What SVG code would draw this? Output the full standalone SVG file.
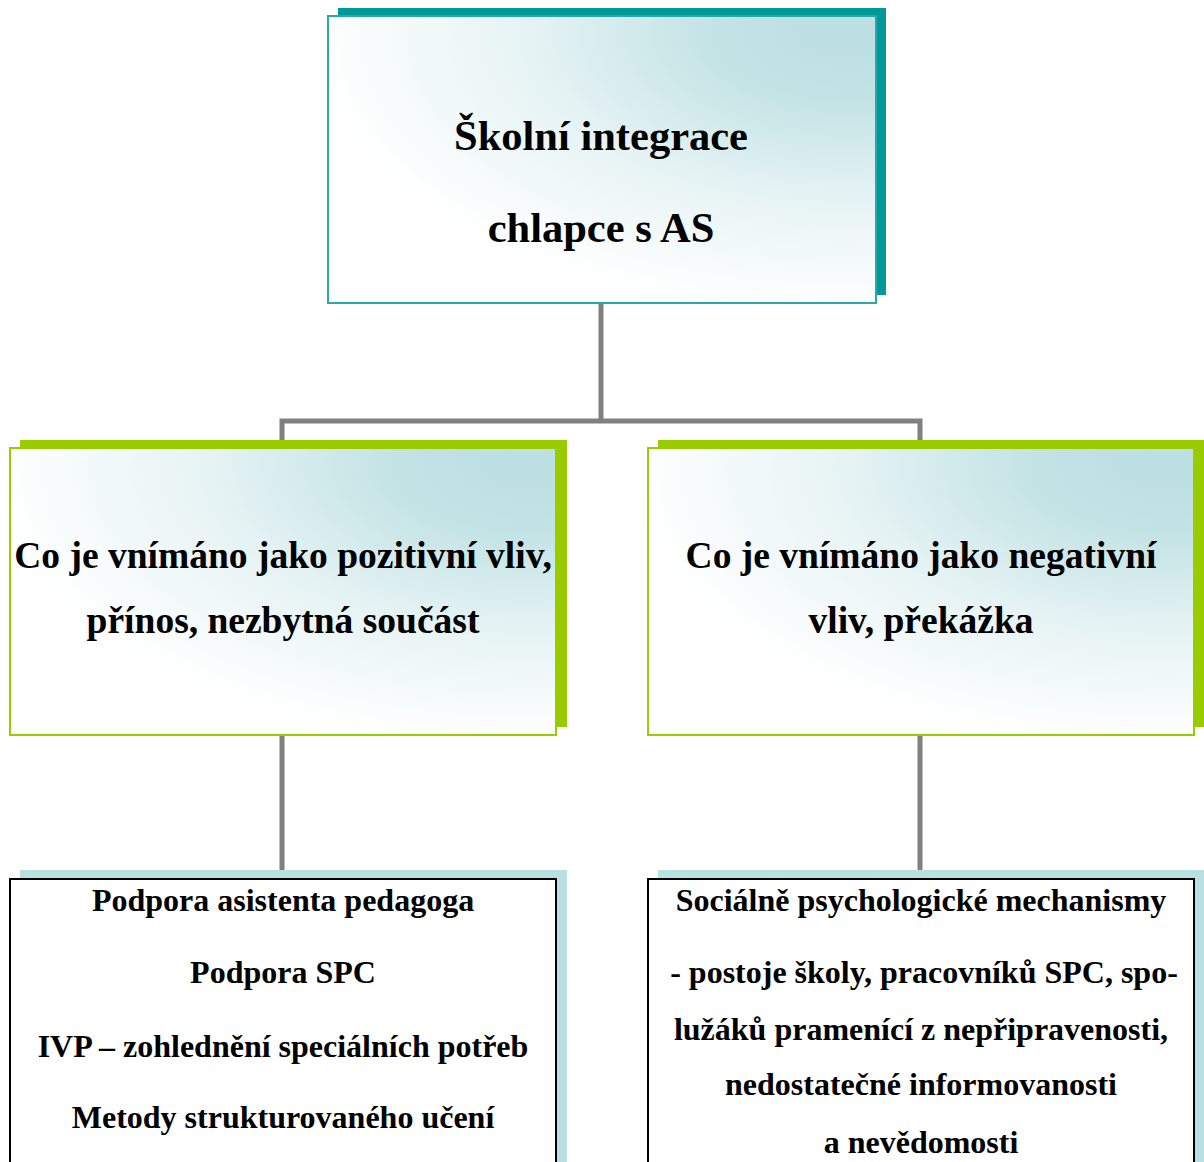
<svg xmlns="http://www.w3.org/2000/svg" width="1204" height="1162" viewBox="0 0 1204 1162">
<style>
text{font-family:"Liberation Serif","Times New Roman",serif;font-weight:bold;fill:#000;text-anchor:middle}
.t1{font-size:42.5px}
.t2{font-size:37.5px}
.t3{font-size:32px}
.conn{stroke:#808080;stroke-width:5;fill:none}
</style>
<defs>
<radialGradient id="g" cx="0.95" cy="0.05" r="0.98" fx="0.95" fy="0.05">
<stop offset="0" stop-color="#bbdfe2"/>
<stop offset="0.25" stop-color="#c3e3e5"/>
<stop offset="0.6" stop-color="#e6f3f4"/>
<stop offset="1" stop-color="#ffffff"/>
</radialGradient>
</defs>
<rect width="1204" height="1162" fill="#fff"/>
<g id="connectors">
<path class="conn" d="M601 303V421M282 448V421H920V448"/>
<path class="conn" d="M282 735V872M920 735V872"/>
</g>
<g id="top">
<rect x="338" y="8" width="548" height="287" fill="#009999"/>
<rect x="328" y="16" width="548" height="287" fill="url(#g)" stroke="#2aa8a8" stroke-width="2"/>
<text class="t1" x="601" y="150">Školní integrace</text>
<text class="t1" x="601" y="242">chlapce s AS</text>
</g>
<g id="positive">
<rect x="20" y="440" width="547" height="287" fill="#99cc00"/>
<rect x="10" y="448" width="546" height="287" fill="url(#g)" stroke="#99cc00" stroke-width="2"/>
<text class="t2" x="283" y="568">Co je vnímáno jako pozitivní vliv,</text>
<text class="t2" x="283" y="633">přínos, nezbytná součást</text>
</g>
<g id="negative">
<rect x="658" y="440" width="546" height="287" fill="#99cc00"/>
<rect x="648" y="448" width="546" height="287" fill="url(#g)" stroke="#99cc00" stroke-width="2"/>
<text class="t2" x="921" y="568">Co je vnímáno jako negativní</text>
<text class="t2" x="921" y="633">vliv, překážka</text>
</g>
<g id="positive-list">
<rect x="20" y="870" width="547" height="300" fill="#b9e0e3"/>
<rect x="10" y="879" width="546" height="300" fill="#fff" stroke="#000" stroke-width="2"/>
<text class="t3" x="283" y="911">Podpora asistenta pedagoga</text>
<text class="t3" x="283" y="983">Podpora SPC</text>
<text class="t3" x="283" y="1057">IVP – zohlednění speciálních potřeb</text>
<text class="t3" x="283" y="1128">Metody strukturovaného učení</text>
</g>
<g id="negative-list">
<rect x="658" y="870" width="546" height="300" fill="#b9e0e3"/>
<rect x="648" y="879" width="546" height="300" fill="#fff" stroke="#000" stroke-width="2"/>
<text class="t3" x="921" y="911">Sociálně psychologické mechanismy</text>
<text class="t3" x="924" y="983">- postoje školy, pracovníků SPC, spo-</text>
<text class="t3" x="921" y="1040">lužáků pramenící z nepřipravenosti,</text>
<text class="t3" x="921" y="1095">nedostatečné informovanosti</text>
<text class="t3" x="921" y="1153">a nevědomosti</text>
</g>
</svg>
